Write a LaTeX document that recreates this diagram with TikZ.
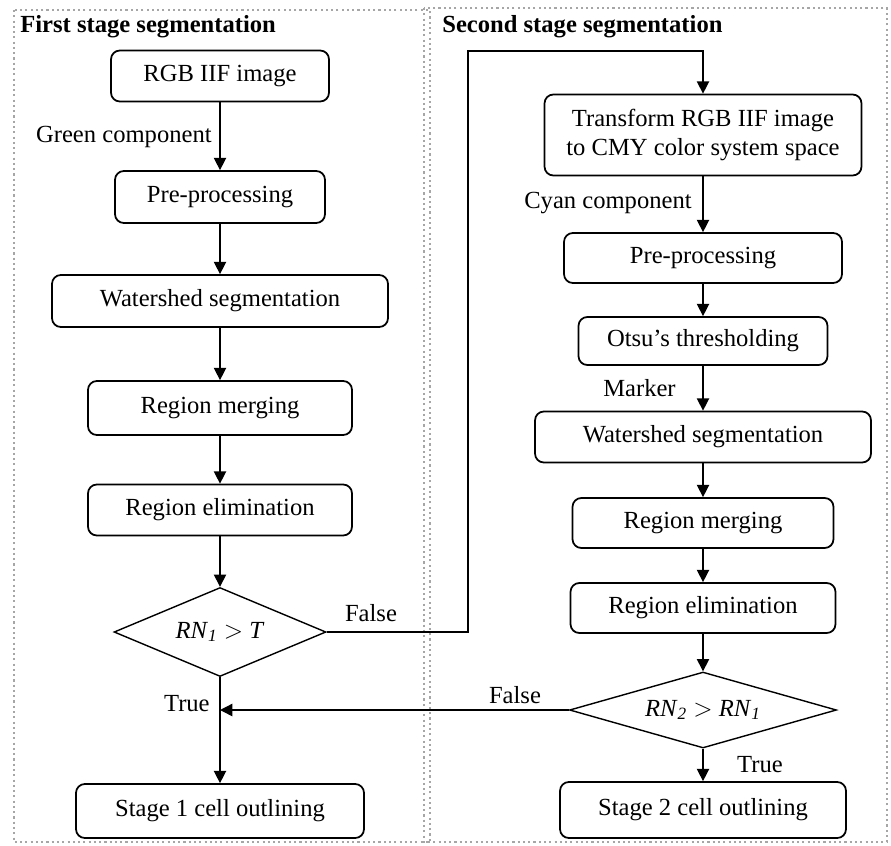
\documentclass[tikz,border=0pt]{standalone}
\usepackage{fontspec}
\setmainfont{Liberation Serif}
\usetikzlibrary{shapes.geometric,arrows.meta}

\begin{document}
\begin{tikzpicture}[x=0.02cm,y=-0.02cm,
        txt/.style={font=\fontsize{14}{17}\selectfont},
        box/.style={txt,draw,rounded corners=5pt,line width=1pt,inner sep=0pt,align=center},
        decision/.style={txt,draw,diamond,line width=0.8pt,inner sep=0pt,aspect=2.5},
        arr/.style={line width=0.8pt,-{Triangle[width=7pt,length=7pt]}},
        lbl/.style={txt,inner sep=0pt},
        panel/.style={draw=gray!70,line width=1.2pt,dash pattern=on 1.2pt off 1.8pt}]
        \useasboundingbox (0,0) rectangle (891,845);
        \draw [panel] (14,10) rectangle (430,842);
        \draw [panel] (424,8) rectangle (887,842);
        \node (title1) [lbl,anchor=west,font=\fontsize{14}{17}\selectfont\bfseries] at (20,27) {First stage segmentation};
        \node (title2) [lbl,anchor=west,font=\fontsize{14}{17}\selectfont\bfseries] at (442,27) {Second stage segmentation};
        \node (rgb) [box,minimum width=4.36cm,minimum height=1.02cm] at (220,76) {RGB IIF image};
        \node (pre1) [box,minimum width=4.2cm,minimum height=1.04cm] at (220,197) {Pre-processing};
        \node (ws1) [box,minimum width=6.72cm,minimum height=1.04cm] at (220,301) {Watershed segmentation};
        \node (rm1) [box,minimum width=5.28cm,minimum height=1.08cm] at (220,408) {Region merging};
        \node (re1) [box,minimum width=5.28cm,minimum height=1.02cm] at (220,510) {Region elimination};
        \node (dec1) [decision,minimum width=4.24cm,minimum height=1.78cm] at (220,632) {\textit{RN}\textsubscript{\textit{1}} $>$ \textit{T}};
        \node (out1) [box,minimum width=5.76cm,minimum height=1.08cm] at (220,811) {Stage 1 cell outlining};
        \node (trans) [box,minimum width=6.34cm,minimum height=1.62cm] at (703,135) {Transform RGB IIF image\\to CMY color system space};
        \node (pre2) [box,minimum width=5.56cm,minimum height=1.0cm] at (703,258) {Pre-processing};
        \node (otsu) [box,minimum width=4.98cm,minimum height=0.96cm] at (703,341) {Otsu's thresholding};
        \node (ws2) [box,minimum width=6.72cm,minimum height=1.02cm] at (703,437) {Watershed segmentation};
        \node (rm2) [box,minimum width=5.22cm,minimum height=1.0cm] at (703,523) {Region merging};
        \node (re2) [box,minimum width=5.3cm,minimum height=1.0cm] at (703,608) {Region elimination};
        \node (dec2) [decision,minimum width=5.34cm,minimum height=1.52cm] at (703,710) {\textit{RN}\textsubscript{\textit{2}} $>$ \textit{RN}\textsubscript{\textit{1}}};
        \node (out2) [box,minimum width=5.72cm,minimum height=1.12cm] at (703,810) {Stage 2 cell outlining};
        \coordinate (turn) at (468,51);
        \draw [arr] (rgb) -- (pre1);
        \node (green) [lbl,anchor=east] at (212,137) {Green component};
        \draw [arr] (pre1) -- (ws1);
        \draw [arr] (ws1) -- (rm1);
        \draw [arr] (rm1) -- (re1);
        \draw [arr] (re1) -- (dec1);
        \draw [arr] (dec1) -- (out1);
        \node (true1) [lbl,anchor=east] at (210,704) {True};
        \draw [arr] (dec1.east) -| (turn) -| (trans.north);
        \node (false1) [lbl] at (371,613) {False};
        \draw [arr] (trans) -- (pre2);
        \node (cyan) [lbl,anchor=east] at (692,203) {Cyan component};
        \draw [arr] (pre2) -- (otsu);
        \draw [arr] (otsu) -- (ws2);
        \node (marker) [lbl,anchor=east] at (676,388) {Marker};
        \draw [arr] (ws2) -- (rm2);
        \draw [arr] (rm2) -- (re2);
        \draw [arr] (re2) -- (dec2);
        \draw [arr] (dec2) -- (out2);
        \node (true2) [lbl] at (760,765) {True};
        \draw [arr] (dec2.west) -- (dec1.south |- dec2.west);
        \node (false2) [lbl] at (515,695) {False};
\end{tikzpicture}
\end{document}
